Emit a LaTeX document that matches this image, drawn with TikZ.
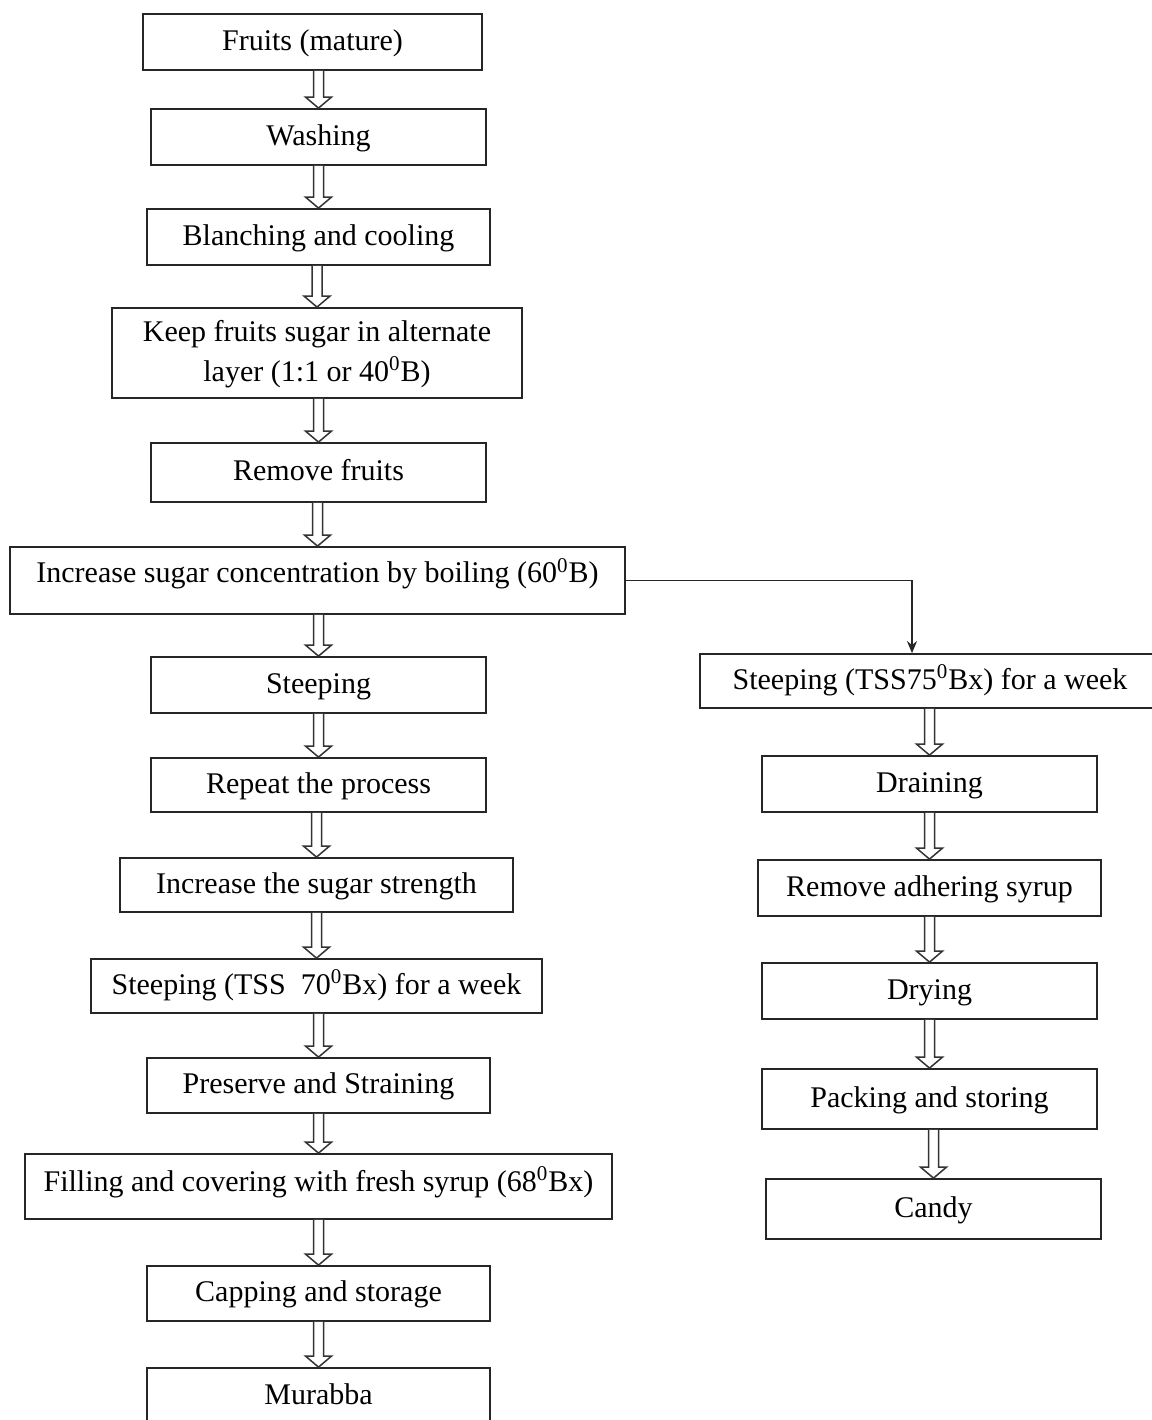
\documentclass[tikz,border=0pt]{standalone}
\usepackage{fontspec}
\setmainfont{Liberation Serif}
\usetikzlibrary{calc,arrows.meta}
\begin{document}
\begin{tikzpicture}[
    x=0.5pt, y=-0.5pt,
    box/.style={draw=black!85,line width=0.9pt,minimum height=28pt,inner sep=0pt,
        text height=11pt,text depth=3pt,align=center,
        font=\fontsize{15}{20}\selectfont},
    hollow/.style={draw=black!80,line width=0.75pt,fill=white,line join=miter},
    >={Stealth[length=6pt,width=5pt]}
]
\useasboundingbox (0,0) rectangle (1152,1420);

% left column
\node[box,minimum width=169.5pt] (fruit) at (312.5,42) {Fruits (mature)};
\node[box,minimum width=167.5pt] (wash) at (318.5,137) {Washing};
\node[box,minimum width=171.5pt] (blanch) at (318.5,237) {Blanching and cooling};
\node[box,minimum width=205pt,minimum height=45pt,text height=31pt] (keep) at (317,353)
    {Keep fruits sugar in alternate\\layer (1:1 or 40\textsuperscript{0}B)};
\node[box,minimum width=167.5pt,minimum height=29.5pt] (remove) at (318.5,472.5) {Remove fruits};
\node[box,minimum width=307.5pt,minimum height=33.5pt,text depth=9pt] (inc) at (317.5,580.5)
    {Increase sugar concentration by boiling (60\textsuperscript{0}B)};
\node[box,minimum width=167.5pt] (steep) at (318.5,685) {Steeping};
\node[box,minimum width=167.5pt,minimum height=27pt] (repeat) at (318.5,785) {Repeat the process};
\node[box,minimum width=196.5pt,minimum height=27pt] (strength) at (316.5,885) {Increase the sugar strength};
\node[box,minimum width=225.5pt,minimum height=27pt] (week) at (316.5,986)
    {Steeping (TSS~ 70\textsuperscript{0}Bx) for a week};
\node[box,minimum width=171.5pt,minimum height=27.5pt] (preserve) at (318.5,1085.5) {Preserve and Straining};
\node[box,minimum width=293.5pt,minimum height=32.5pt,text depth=6.5pt] (fill) at (318.5,1186.5)
    {Filling and covering with fresh syrup (68\textsuperscript{0}Bx)};
\node[box,minimum width=171.5pt,minimum height=27.5pt] (cap) at (318.5,1293.5) {Capping and storage};
\node[box,minimum width=171.5pt] (murabba) at (318.5,1396) {Murabba};

% right column
\node[box,minimum width=230pt,minimum height=27pt] (steeptss) at (930,681)
    {Steeping (TSS75\textsuperscript{0}Bx) for a week};
\node[box,minimum width=167.5pt] (drain) at (929.5,784) {Draining};
\node[box,minimum width=171.5pt] (adhere) at (929.5,888) {Remove adhering syrup};
\node[box,minimum width=167.5pt] (dry) at (929.5,991) {Drying};
\node[box,minimum width=167.5pt,minimum height=30pt] (pack) at (929.5,1099) {Packing and storing};
\node[box,minimum width=167.5pt,minimum height=30pt] (candy) at (933.5,1209) {Candy};

% hollow arrows
\foreach \a/\b in {fruit/wash,wash/blanch,blanch/keep,keep/remove,remove/inc,
    inc/steep,steep/repeat,repeat/strength,strength/week,week/preserve,
    preserve/fill,fill/cap,cap/murabba,
    steeptss/drain,drain/adhere,adhere/dry,dry/pack,pack/candy}
  \draw[hollow] ($(\b.north |- \a.south)+(-5,0)$) -- ($(\b.north)+(-5,-11)$)
    -- ($(\b.north)+(-13,-11)$) -- (\b.north) -- ($(\b.north)+(13,-11)$)
    -- ($(\b.north)+(5,-11)$) -- ($(\b.north |- \a.south)+(5,0)$);

% branch to candy
\draw[->,draw=black!85,line width=0.8pt] (inc.east) -| ($(steeptss.north)+(-18,0)$);
\end{tikzpicture}
\end{document}
